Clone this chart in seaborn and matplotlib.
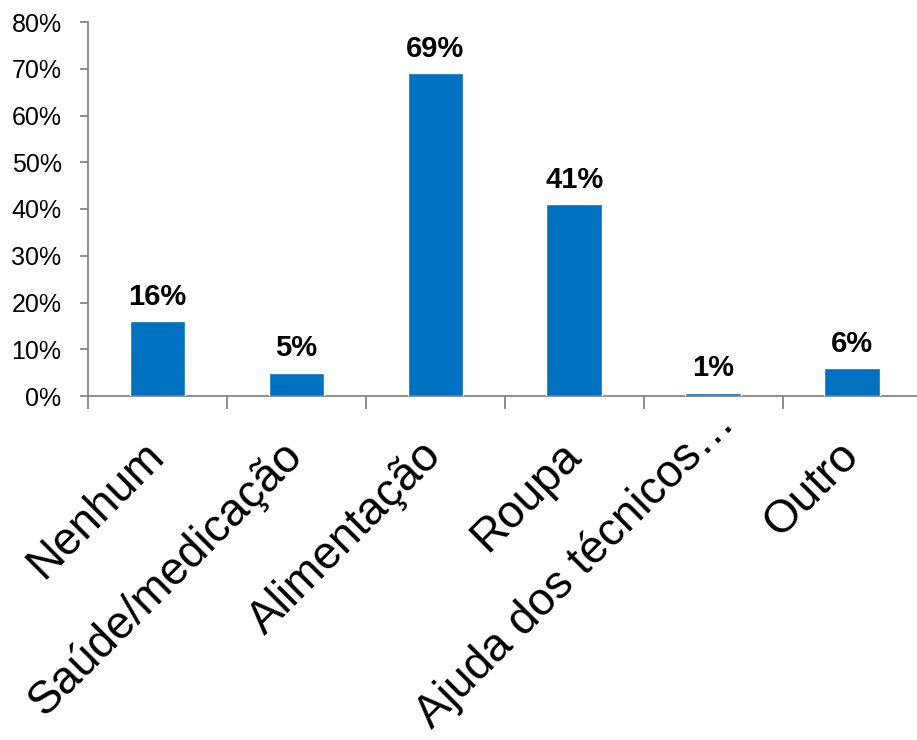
import matplotlib
matplotlib.use("Agg")
import matplotlib.pyplot as plt
import matplotlib.transforms as mtransforms
import seaborn as sns
import pandas as pd
import numpy as np

categories = ["Nenhum", "Saúde/medicação", "Alimentação", "Roupa", "Ajuda dos técnicos…", "Outro"]
values = [16, 5, 69, 41, 0.7, 6]
value_labels = ["16%", "5%", "69%", "41%", "1%", "6%"]
y_ticks = [0, 10, 20, 30, 40, 50, 60, 70, 80]
y_tick_labels = ["0%", "10%", "20%", "30%", "40%", "50%", "60%", "70%", "80%"]

sns.set_style("white")
plt.rcParams['font.family'] = ['Liberation Sans', 'DejaVu Sans']

df = pd.DataFrame({"cat": categories, "val": values})

fig = plt.figure(figsize=(9.17, 7.40), dpi=100)
ax = fig.add_axes([88/917, 1-396/740, (921.5-88)/917, (396-22)/740])

sns.barplot(data=df, x="cat", y="val", color="#0070C0", width=0.4, ax=ax, saturation=1, zorder=3)

ax.set_xlim(-0.5, len(categories) - 0.5)
ax.set_ylim(0, 80)
ax.set_yticks(y_ticks)
ax.set_yticklabels(y_tick_labels, fontsize=18, color="black")
ax.set_xlabel("")
ax.set_ylabel("")

for s in ["top", "right"]:
    ax.spines[s].set_visible(False)
for s in ["left", "bottom"]:
    ax.spines[s].set_color("#868686")
    ax.spines[s].set_linewidth(1.3)
    ax.spines[s].set_zorder(1)

ax.tick_params(axis="y", which="major", length=6, width=1.3, color="#868686", pad=13, left=True)
ax.set_xticks(np.arange(len(categories)))
ax.set_xticklabels(categories, rotation=45, ha="right", va="center", rotation_mode="anchor",
                   fontsize=33, color="black")
ax.tick_params(axis="x", which="major", length=0, pad=38)
for lab in ax.get_xticklabels():
    if lab.get_text().startswith("Ajuda"):
        dx, dy = 15, 32
    else:
        dx, dy = 0, 0
    offset = mtransforms.ScaledTranslation(dx/100, dy/100, fig.dpi_scale_trans)
    lab.set_transform(lab.get_transform() + offset)
ax.set_xticks(np.arange(-0.5, len(categories) + 0.5, 1), minor=True)
ax.tick_params(axis="x", which="minor", length=9, width=1.3, color="#868686", bottom=True)

for i, (v, lab) in enumerate(zip(values, value_labels)):
    ax.text(i, v + 2.2, lab, ha="center", va="bottom", fontsize=21, fontweight="bold", color="black")

fig.savefig("out.png", dpi=100)
